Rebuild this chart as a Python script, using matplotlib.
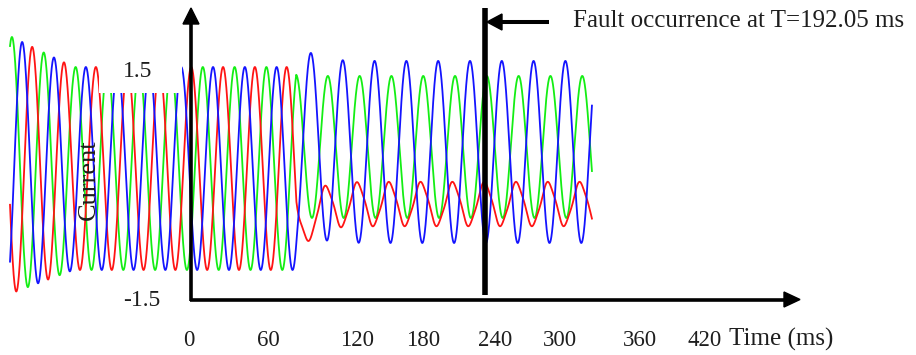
"""Three-phase current before and after a fault, drawn as a hand-annotated sketch."""

import numpy as np
import matplotlib

matplotlib.use("Agg")

import matplotlib.pyplot as plt
from matplotlib.patches import Polygon, Rectangle
from matplotlib.transforms import Affine2D

# --- data (time in ms, current in pu) --------------------------------------
phase_names = ["green", "red", "blue"]
period_ms = 20.0
pre_peak_ms = [1.26, 14.0, 7.7]       # time of a positive peak before the fault
post_peak_ms = [-0.1, 18.55, 9.3]     # time of a positive peak after the fault
post_amp = [0.70, 0.207, 0.897]
post_offset = [0.212, -0.35, 0.163]
post_ripple = [0.0, 0.015, 0.0]       # 3rd-harmonic distortion on the faulted phase
fault_kick = [0.0, -0.36, 0.27]       # short offset swing right after the fault
start_amp = 1.27                      # start-up envelope, settling to 1.0 pu
start_dc = 0.035
settle_ms = 40.0
fault_ms = 180.0
end_ms = 366.0

time_ticks = ["0", "60", "120", "180", "240", "300", "360", "420"]
current_ticks = ["1.5", "-1.5"]
fault_label = "Fault occurrence at T=192.05 ms"

# --- layout (figure pixels) -------------------------------------------------
W, H = 916, 355
tick_x = [189, 268, 357, 423, 495, 560, 640, 705]
colors = {"green": "#14ee14", "red": "#ff1414", "blue": "#1414ff"}
ink = "#1e1e1e"
serif = "Liberation Serif"

fig = plt.figure(figsize=(W / 100, H / 100), dpi=100)
ax = fig.add_axes([0, 0, 1, 1])
ax.axis("off")
# x_px = 10 + 1.59 t ; y_px = 168.5 - 101.5 i
ax.set_xlim(-10 / 1.59, (W - 10) / 1.59)
ax.set_ylim((168.5 - H) / 101.5, 168.5 / 101.5)

px = Affine2D().scale(1 / W, -1 / H).translate(0, 1) + fig.transFigure

t = np.linspace(0, end_ms, 8000)
settle = np.clip(1 - t / settle_ms, 0, None)
since = np.clip(t - fault_ms, 0, None)
for k, name in enumerate(phase_names):
    w = 2 * np.pi / period_ms
    pre = start_dc * settle + (1 + (start_amp - 1) * settle) * np.cos(w * (t - pre_peak_ms[k]))
    post = (post_offset[k] + post_amp[k] * np.cos(w * (t - post_peak_ms[k]))
            + post_ripple[k] * np.cos(3 * w * (t - post_peak_ms[k]) + 0.8))
    j = np.searchsorted(t, fault_ms)
    jump = pre[j] - post[j]
    post = (post + jump * np.exp(-since / 4.0)
            + fault_kick[k] * (np.exp(-since / 8.0) - np.exp(-since / 2.0)))
    current = np.where(t < fault_ms, pre, post)
    ax.plot(t, current, color=colors[name], lw=1.3, zorder=2)

# the pasted trace is cut flat under the "1.5" label
ax.add_patch(Rectangle((99, 0), 83, 93, transform=px, facecolor="white",
                       edgecolor="none", zorder=3))

# hand-drawn axes
line_kw = dict(transform=px, color="black", solid_capstyle="butt", zorder=5)
ax.plot([191, 191], [300.5, 22], lw=2.6, **line_kw)
ax.add_patch(Polygon([(183, 24), (199, 24), (191, 8)], closed=True,
                     transform=px, color="black", zorder=5))
ax.plot([189.5, 786], [299.5, 299.5], lw=2.6, **line_kw)
ax.add_patch(Polygon([(784, 292), (784, 307), (800, 299.5)], closed=True,
                     transform=px, color="black", zorder=5))

# fault marker
ax.plot([485, 485], [8, 295], lw=4.0, **line_kw)
ax.plot([500, 549], [22, 22], lw=2.9, **line_kw)
ax.add_patch(Polygon([(502, 14), (502, 30), (487, 22)], closed=True,
                     transform=px, color="black", zorder=5))

text_kw = dict(transform=px, color=ink, family=serif, zorder=6)
ax.text(573, 27, fault_label, fontsize=18, ha="left", va="baseline", **text_kw)
for label, x in zip(time_ticks, tick_x):
    ax.text(x, 346, label, fontsize=16.5, ha="center", va="baseline", **text_kw)
ax.text(729, 346, "Time (ms)", fontsize=18, ha="left", va="baseline", **text_kw)
ax.text(138, 77, current_ticks[0], fontsize=17, ha="center", va="baseline", **text_kw)
ax.text(142, 306, current_ticks[1], fontsize=17, ha="center", va="baseline", **text_kw)
ax.text(89, 180, "Current", fontsize=19, rotation=90, ha="center", va="center", **text_kw)

fig.savefig("out.png", dpi=100)
plt.close(fig)
